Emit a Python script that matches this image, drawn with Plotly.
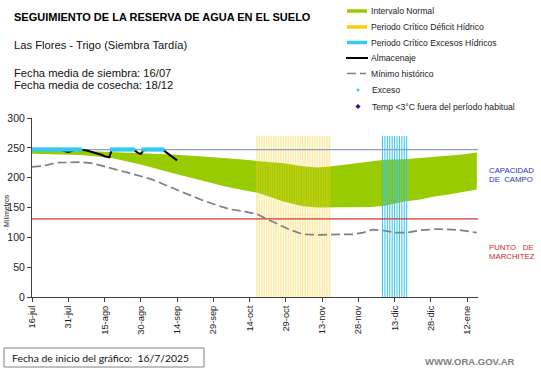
import plotly.graph_objects as go

# ---------------- data ----------------
tick_days = [0, 15, 30, 45, 60, 75, 90, 105, 120, 135, 150, 165, 180]
tick_labels = ["16-jul", "31-jul", "15-ago", "30-ago", "14-sep", "29-sep", "14-oct",
               "29-oct", "13-nov", "28-nov", "13-dic", "28-dic", "12-ene"]

band_days = [0, 10, 20, 32, 45, 58, 72, 80, 86, 93, 104, 112, 118, 124, 132, 140,
             146, 154, 160, 166, 173, 178, 184]
band_upper = [246, 246, 245, 243, 241, 239, 235, 233, 231, 228, 224, 219, 217, 219,
              223, 227, 230, 231, 233, 235, 237, 239, 242]
band_lower = [240, 239, 238, 234, 222, 208, 193, 185, 180, 175, 160, 152, 150, 150,
              150, 151, 153, 160, 163, 168, 172, 176, 180]

min_days = [0, 5, 10, 15, 20, 25, 32, 40, 49, 57, 64, 70, 77, 82, 87, 93, 97, 101,
            106, 112, 119, 126, 133, 137, 141, 146, 150, 155, 161, 168, 177, 184]
min_hist = [218, 220, 225, 226, 226, 224, 217, 208, 198, 185, 173, 163, 153, 147,
            144, 139, 131, 123, 114, 105, 104, 105, 105, 108, 113, 111, 108, 108,
            112, 114, 112, 108]

alm_days = [0, 1, 2, 3, 4, 5, 6, 7, 8, 9, 10, 11, 12, 13, 14, 15, 16, 17, 18, 19, 20,
            21, 22, 23, 24, 25, 26, 27, 28, 29, 30, 31, 32, 33, 34, 35, 36, 37, 38, 39,
            40, 41, 42, 43, 44, 45, 46, 47, 48, 49, 50, 51, 52, 53, 54, 55, 56, 57, 58,
            59, 60]
almacenaje = [247, 247, 247, 247, 247, 247, 247, 247, 247, 247, 247, 247, 247, 245,
              244, 243, 244, 246, 247, 247, 247, 247, 246, 245, 244, 242, 241, 240,
              239, 238, 236, 235, 234, 247, 247, 247, 247, 247, 247, 247, 247, 247,
              247, 244, 241, 240, 245, 247, 247, 247, 247, 247, 247, 247, 247, 244,
              241, 238, 235, 232, 229]

exceso_days = [0, 1, 2, 3, 4, 5, 6, 7, 8, 9, 10, 11, 12, 13, 14, 15, 16, 17, 18, 19, 20,
               33, 34, 35, 36, 37, 38, 39, 40, 41, 42,
               46, 47, 48, 49, 50, 51, 52, 53, 54]
exceso_val = 247

deficit_days = [93, 94, 95, 96, 97, 98, 99, 100, 101, 102, 103, 104, 105, 106, 107, 108,
                109, 110, 111, 112, 113, 114, 115, 116, 117, 118, 119, 120, 121, 122, 123]
excesos_days = [145, 146, 147, 148, 149, 150, 151, 152, 153, 154, 155]
period_top = 270

capacidad_campo = 247
punto_marchitez = 131
x_end = 184.5

# ---------------- figure ----------------
W, H = 541, 368
L, R, T, B = 32, 478, 118, 297


def px(x):
    return (x - L) / (R - L)


def py(y):
    return (B - y) / (B - T)


fig = go.Figure()

# green band
fig.add_trace(go.Scatter(x=band_days, y=band_lower, mode="lines",
                         line=dict(width=0, color="#99cc00"), hoverinfo="skip"))
fig.add_trace(go.Scatter(x=band_days, y=band_upper, mode="lines", fill="tonexty",
                         fillcolor="#99cc00", line=dict(width=0, color="#99cc00"),
                         hoverinfo="skip"))


def stripes(days, top):
    xs, ys = [], []
    for d in days:
        xs += [d, d, None]
        ys += [0, top, None]
    return xs, ys


xs, ys = stripes(deficit_days, period_top)
fig.add_trace(go.Scatter(x=xs, y=ys, mode="lines",
                         line=dict(width=1.6, color="rgba(245,210,50,0.42)"),
                         hoverinfo="skip"))
xs, ys = stripes(excesos_days, period_top)
fig.add_trace(go.Scatter(x=xs, y=ys, mode="lines",
                         line=dict(width=1.1, color="rgba(40,195,235,0.9)"),
                         hoverinfo="skip"))

# reference lines
fig.add_trace(go.Scatter(x=[0, x_end], y=[capacidad_campo, capacidad_campo], mode="lines",
                         line=dict(width=1.2, color="#8a9cc8"), hoverinfo="skip"))
fig.add_trace(go.Scatter(x=[0, x_end], y=[punto_marchitez, punto_marchitez], mode="lines",
                         line=dict(width=1.2, color="#d03a3a"), hoverinfo="skip"))

# minimo historico
fig.add_trace(go.Scatter(x=min_days, y=min_hist, mode="lines",
                         line=dict(width=1.7, color="#7f7f7f", dash="9px,4px"),
                         hoverinfo="skip"))

# almacenaje
fig.add_trace(go.Scatter(x=alm_days, y=almacenaje, mode="lines",
                         line=dict(width=2, color="#000000"), hoverinfo="skip"))

# exceso dots
fig.add_trace(go.Scatter(x=exceso_days, y=[exceso_val] * len(exceso_days), mode="markers",
                         marker=dict(size=4.5, color="#33ccee", symbol="circle",
                                     line=dict(width=0)),
                         hoverinfo="skip"))

font_main = "Liberation Sans, Arial, sans-serif"

fig.update_layout(
    width=W, height=H,
    margin=dict(l=L, r=W - R, t=T, b=H - B, pad=0, autoexpand=False),
    paper_bgcolor="white", plot_bgcolor="white",
    showlegend=False,
    font=dict(family=font_main, color="#222222"),
    xaxis=dict(range=[0, x_end], tickmode="array", tickvals=tick_days,
               ticktext=tick_labels, tickangle=-90, ticks="outside", ticklen=4,
               tickcolor="#404040", showline=True, linecolor="#404040", linewidth=1,
               showgrid=False, zeroline=False, automargin=False,
               tickfont=dict(size=9.3, color="#1a1a1a")),
    yaxis=dict(range=[0, 300], tickvals=[0, 50, 100, 150, 200, 250, 300],
               ticks="outside", ticklen=4, tickcolor="#404040", showline=True,
               linecolor="#404040", linewidth=1, showgrid=False, zeroline=False,
               automargin=False, tickfont=dict(size=10.5, color="#222222")),
)

ann = []


def text(x, y, s, size, color="#111111", anchor="left", bold=False, family=font_main,
         angle=0):
    if bold:
        s = "<b>" + s + "</b>"
    ann.append(dict(x=px(x), y=py(y), xref="paper", yref="paper", text=s,
                    showarrow=False, xanchor=anchor, yanchor="middle", textangle=angle,
                    font=dict(size=size, color=color, family=family)))


text(12, 16.5, "SEGUIMIENTO DE LA RESERVA DE AGUA EN EL SUELO", 11, "#000000", bold=True)
text(12, 45, "Las Flores - Trigo (Siembra Tardía)", 11.2)
text(12, 73, "Fecha media de siembra: 16/07", 11.2)
text(12, 85, "Fecha media de cosecha: 18/12", 11.2)

legend_items = [
    (11, "Intervalo Normal"),
    (27, "Periodo Crítico Déficit Hídrico"),
    (42.5, "Periodo Crítico Excesos Hídricos"),
    (58, "Almacenaje"),
    (73.5, "Mínimo histórico"),
    (90, "Exceso"),
    (106.5, "Temp &lt;3°C fuera del período habitual"),
]
for y, s in legend_items:
    xx = 370 if s in ("Exceso",) or s.startswith("Temp") else 368.5
    text(xx, y, s, 8.6, "#222222")

text(487, 170, "CAPACIDAD", 7.8, "#2b33b8")
text(487, 179, "DE  CAMPO", 7.8, "#2b33b8")
text(487, 247, "PUNTO   DE", 7.8, "#cc2a2a")
text(487, 256, "MARCHITEZ", 7.8, "#cc2a2a")

text(6, 211, "Milímetros", 7, "#222222", anchor="center", angle=-90)

text(10, 357.5, "Fecha de inicio del gráfico:\u00a0\u00a016/7/2025", 10.4, "#111111",
     family="Lato, Liberation Sans, sans-serif")
text(470, 361, "WWW.ORA.GOV.AR", 9.5, "#808080", anchor="center", bold=True)

shapes = []


def hline(x0, x1, y, color, width, dash="solid"):
    shapes.append(dict(type="line", xref="paper", yref="paper", x0=px(x0), x1=px(x1),
                       y0=py(y), y1=py(y), line=dict(color=color, width=width, dash=dash)))


hline(347, 367, 11, "#99cc00", 3.5)
hline(347, 367, 27, "#ffcc00", 3.5)
hline(347, 367, 42.5, "#33ccee", 3.5)
hline(346, 368, 58, "#000000", 2)
hline(347, 356, 73.5, "#7f7f7f", 1.5)
hline(360, 366, 73.5, "#7f7f7f", 1.5)
shapes.append(dict(type="circle", xref="paper", yref="paper",
                   x0=px(356.5), x1=px(359.5), y0=py(88.5), y1=py(91.5),
                   fillcolor="#33ccee", line=dict(width=0)))
cx, cy, r = 358, 106.5, 2.6
path = "M {} {} L {} {} L {} {} L {} {} Z".format(
    px(cx), py(cy - r), px(cx + r), py(cy), px(cx), py(cy + r), px(cx - r), py(cy))
shapes.append(dict(type="path", xref="paper", yref="paper", path=path,
                   fillcolor="#1a1a99", line=dict(width=0)))
shapes.append(dict(type="rect", xref="paper", yref="paper", x0=px(4), x1=px(204),
                   y0=py(348), y1=py(367), line=dict(color="#808080", width=1),
                   fillcolor="rgba(0,0,0,0)"))

fig.update_layout(annotations=ann, shapes=shapes)

fig.write_html("out.html", config={"displayModeBar": False},
               post_script="document.body.style.margin='0';"
                           "document.body.style.overflow='hidden';")
